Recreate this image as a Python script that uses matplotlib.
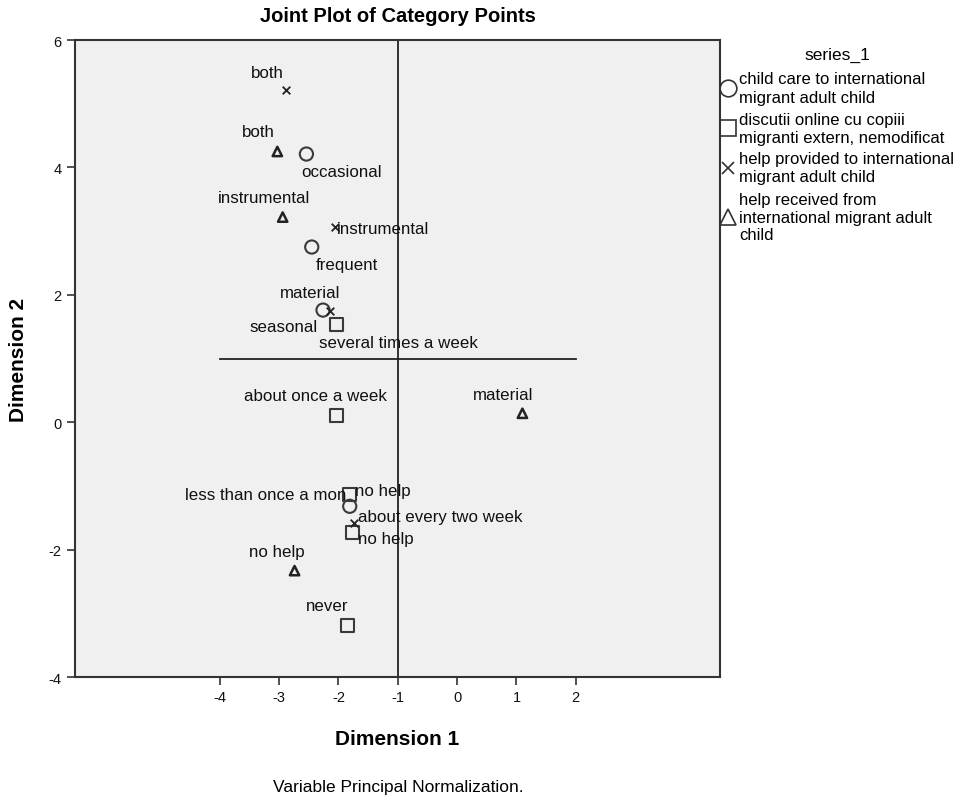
import matplotlib
matplotlib.use("Agg")
import matplotlib.pyplot as plt
from matplotlib.lines import Line2D

plt.rcParams['font.family'] = ['Liberation Sans', 'DejaVu Sans']
plt.rcParams['axes.unicode_minus'] = False

# child care to international migrant adult child
care_x = [-2.54, -2.45, -2.26, -1.81]
care_y = [4.21, 2.75, 1.76, -1.32]
care_labels = ["occasional", "frequent", "seasonal", "no help"]

# discutii online cu copiii migranti extern, nemodificat
talk_x = [-2.03, -2.03, -1.82, -1.76, -1.85]
talk_y = [1.53, 0.10, -1.14, -1.73, -3.19]
talk_labels = ["several times a week", "about once a week", "less than once a mon",
               "about every two week", "never"]

# help provided to international migrant adult child
prov_x = [-2.88, -2.06, -2.15, -1.74]
prov_y = [5.21, 3.06, 1.75, -1.58]
prov_labels = ["both", "instrumental", "material", "no help"]

# help received from international migrant adult child
recv_x = [-3.03, -2.94, 1.10, -2.74]
recv_y = [4.25, 3.22, 0.14, -2.33]
recv_labels = ["both", "instrumental", "material", "no help"]

legend_labels = ["child care to international\nmigrant adult child",
                 "discutii online cu copiii\nmigranti extern, nemodificat",
                 "help provided to international\nmigrant adult child",
                 "help received from\ninternational migrant adult\nchild"]

x_ticks = [-4, -3, -2, -1, 0, 1, 2]
y_ticks = [-4, -2, 0, 2, 4, 6]

# label placement (pixel offsets from the point, alignment)
care_off = [(-5, -17, 'left'), (4, -17, 'left'), (-5, -16, 'right'), (5, 16, 'left')]
talk_off = [(-18, -18, 'left'), (-21, 20, 'center'), (-3, 0, 'right'),
            (5, 16, 'left'), (-20, 20, 'center')]
prov_off = [(-19, 18, 'center'), (2, -1, 'left'), (-19, 18, 'center'), (4, -16, 'left')]
recv_off = [(-19, 20, 'center'), (-19, 20, 'center'), (-19, 19, 'center'), (-18, 19, 'center')]

W, H = 965, 803
edge = '#3a3a3a'
fig = plt.figure(figsize=(W / 100, H / 100), dpi=100)
ax = fig.add_axes([75 / W, 1 - 678 / H, 645 / W, 637 / H])
ax.set_facecolor('#f0f0f0')

ax.set_xlim(-6.44, 4.43)
ax.set_ylim(-4, 6)

ax.axvline(-1, color='#222222', lw=1.3, zorder=1)
ax.plot([-4, 2], [1, 1], color='#222222', lw=1.3, zorder=1)

ax.scatter(care_x, care_y, marker='o', s=90, facecolors='none', edgecolors=edge, linewidths=1.5, zorder=3)
ax.scatter(talk_x, talk_y, marker='s', s=90, facecolors='none', edgecolors=edge, linewidths=1.5, zorder=3)
ax.scatter(prov_x, prov_y, marker='x', s=30, color='#222222', linewidths=1.3, zorder=3)
ax.scatter(recv_x, recv_y, marker='^', s=45, facecolors='none', edgecolors='#222222', linewidths=1.8, zorder=3)

for xs, ys, labs, offs in [(care_x, care_y, care_labels, care_off),
                           (talk_x, talk_y, talk_labels, talk_off),
                           (prov_x, prov_y, prov_labels, prov_off),
                           (recv_x, recv_y, recv_labels, recv_off)]:
    for x, y, lab, (dx, dy, ha) in zip(xs, ys, labs, offs):
        ax.annotate(lab, (x, y), xytext=(dx, dy), textcoords='offset pixels',
                    ha=ha, va='center', fontsize=12.2, color='#111111', zorder=4)

ax.set_xticks(x_ticks)
ax.set_yticks(y_ticks)
ax.tick_params(direction='out', length=6, width=1.2, colors='#333333', labelsize=10.5,
               labelcolor='#111111')
for s in ax.spines.values():
    s.set_color('#333333')
    s.set_linewidth(1.5)

fig.text(398 / W, 1 - 17 / H, "Joint Plot of Category Points", fontsize=14.5,
         fontweight='bold', ha='center', va='center')
ax.set_xlabel("Dimension 1", fontsize=15, fontweight='bold', va='center')
ax.xaxis.set_label_coords(0.5, -0.096)
ax.set_ylabel("Dimension 2", fontsize=15, fontweight='bold', va='center')
ax.yaxis.set_label_coords(-0.088, 0.5)
fig.text(398 / W, 1 - 788 / H, "Variable Principal Normalization.", ha='center', va='center', fontsize=12.5)

# legend drawn by hand to match the SPSS layout
fig.text(837 / W, 1 - 55 / H, "series_1", ha='center', va='center', fontsize=12.5)
leg_markers = [dict(marker='o', ms=12, mfc='none', mec='#333333', mew=1.2),
               dict(marker='s', ms=12, mfc='none', mec='#333333', mew=1.2),
               dict(marker='x', ms=9, color='#333333', mew=1.2),
               dict(marker='^', ms=11, mfc='none', mec='#333333', mew=1.2)]
line_h, gap = 18, 22
py = 80
for lab, mk in zip(legend_labels, leg_markers):
    n = lab.count("\n") + 1
    yc = py + (n - 1) * line_h / 2
    fig.add_artist(Line2D([728 / W], [1 - yc / H], ls='none', transform=fig.transFigure, **mk))
    t = fig.text(739 / W, 1 - yc / H, lab, ha='left', va='center', fontsize=12)
    t.set_linespacing(1.25)
    py += (n - 1) * line_h + gap

fig.savefig("out.png", dpi=100)
